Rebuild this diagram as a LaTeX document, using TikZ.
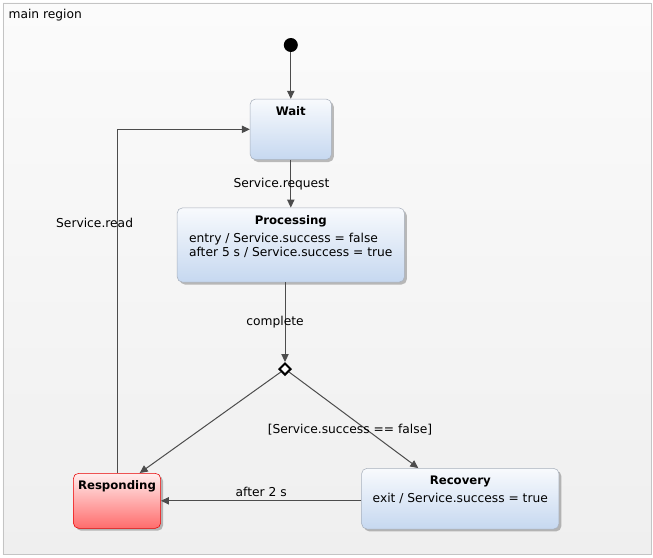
\documentclass[tikz,border=0pt]{standalone}
\usepackage{fontspec}
\setmainfont{DejaVu Sans}
\usetikzlibrary{arrows.meta, positioning, shapes.geometric, shadows}
\definecolor{statetop}{HTML}{F8FAFD}
\definecolor{statebot}{HTML}{C6D8F0}
\definecolor{stateline}{HTML}{A8B0BC}
\definecolor{resptop}{HTML}{FFEEEE}
\definecolor{respbot}{HTML}{FF6C6C}
\definecolor{respline}{HTML}{E80000}
\definecolor{regiontop}{HTML}{FBFBFB}
\definecolor{regionbot}{HTML}{EFEFEF}
\definecolor{regionline}{HTML}{C4C4C4}
\tikzset{
    statebox/.style={rectangle, draw=stateline, top color=statetop, bottom color=statebot, rounded corners=4pt, align=left, font=\fontsize{9.2}{10.5}\selectfont, drop shadow={shadow xshift=1.8pt, shadow yshift=-1.8pt, fill=black, opacity=0.25}},
    redbox/.style={statebox, draw=respline, top color=resptop, bottom color=respbot},
    stitle/.style={anchor=base, yshift=-12.4pt, inner sep=0pt, font=\fontsize{8.8}{10}\selectfont\bfseries},
    choicebox/.style={diamond, draw=black, fill=white, line width=1.5pt, inner sep=0pt, minimum width=9pt, minimum height=9pt},
    initdot/.style={circle, fill=black, inner sep=0pt, minimum size=10.5pt},
    arrow/.style={-{Triangle[length=6pt, width=5.5pt]}, line width=0.75pt, draw=black!70},
    lbl/.style={inner sep=0pt, font=\fontsize{9.2}{11}\selectfont}
}
\begin{document}
\begin{tikzpicture}[x=0.75pt, y=-0.75pt]
    \useasboundingbox (0,0) rectangle (653,557);
    \node[draw=regionline, top color=regiontop, bottom color=regionbot, anchor=north west, inner sep=0pt, minimum width=486pt, minimum height=413.6pt] (region) at (2.5,2.5) {};
    \node[lbl, anchor=west] (regionname) at (8.3,15) {main region};

    \node[initdot] (init) at (290.8,45) {};
    \node[statebox, below=34.9pt of init, minimum width=61pt, minimum height=45.4pt, label={[stitle]north:Wait}] (wait) {};
    \node[statebox, below=35.8pt of wait, minimum width=170.5pt, minimum height=55.7pt, label={[stitle]north:Processing}] (proc) {entry / Service.success = false\\after 5 s / Service.success = true};
    \node[choicebox] (choice) at (285,369) {};
    \node[redbox, minimum width=65.5pt, minimum height=41.25pt, label={[stitle]north:Responding}] (resp) at (117,500.8) {};
    \node[statebox, minimum width=148pt, minimum height=45.5pt, label={[stitle]north:Recovery}] (rec) at (460.3,498.7) {exit / Service.success = true};

    \draw[arrow] (init) -- (wait);
    \draw[arrow] (wait) -- node[lbl, xshift=-7pt] {Service.request} (proc);
    \draw[arrow] (proc.south -| choice) -- node[lbl, xshift=-7.5pt] {complete} (choice);
    \draw[arrow] (choice) -- ([xshift=17pt]resp.north);
    \draw[arrow] (choice) -- node[lbl, pos=.6, xshift=-12.5pt] {[Service.success == false]} ([xshift=-31.5pt]rec.north);
    \draw[arrow] (rec.west |- resp.east) -- node[lbl, yshift=7pt] {after 2 s} (resp.east);
    \draw[arrow] (resp.north) |- node[lbl, pos=.364, xshift=-16.8pt] {Service.read} (wait.west);
\end{tikzpicture}
\end{document}
